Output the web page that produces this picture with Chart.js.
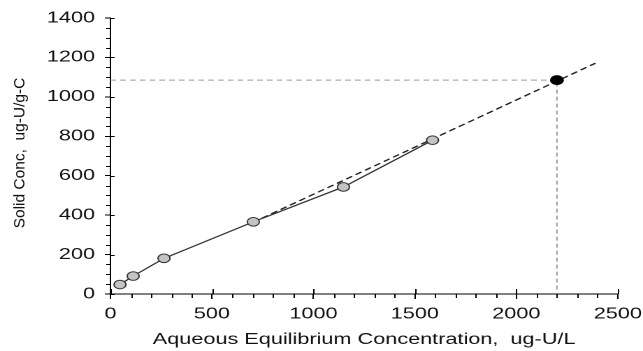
<!DOCTYPE html>
<html>
<head>
<meta charset="utf-8">
<script src="https://cdn.jsdelivr.net/npm/chart.js@4/dist/chart.umd.min.js"></script>
<style>
  html, body { margin: 0; padding: 0; background: #fff; overflow: hidden; }
  #wrap { width: 460px; height: 351px; transform-origin: 0 0; }
</style>
</head>
<body>
<div id="wrap"><canvas id="chart"></canvas></div>
<script>
// measured isotherm points
const measX = [47, 112, 264, 704, 1148, 1587];
const measY = [48, 91, 181, 366, 543, 780];
// linear extrapolation (dashed)
const fitX = [700, 2390];
const fitY = [362, 1171];
// predicted point
const predX = [2200];
const predY = [1085];

const xTicks = [0, 500, 1000, 1500, 2000, 2500];
const yTicks = [0, 200, 400, 600, 800, 1000, 1200, 1400];

// the original picture is stretched sideways, so the whole chart is drawn narrow and scaled
const S = 643 / 460;
document.getElementById('wrap').style.transform = 'scaleX(' + S + ')';

const FONT = 'Liberation Sans, Arial, sans-serif';
const pts = (xs, ys) => xs.map((x, i) => ({ x: x, y: ys[i] }));

// minor ticks + inner half of the major ticks, plus the rotated y title
const axisExtras = {
    id: 'axisExtras',
    afterDraw(chart) {
        const ctx = chart.ctx;
        const xs = chart.scales.x;
        const ys = chart.scales.y;
        const y0 = ys.getPixelForValue(0);
        const x0 = xs.getPixelForValue(0);
        ctx.save();
        ctx.strokeStyle = '#000';
        ctx.lineWidth = 1;
        ctx.beginPath();
        for (let v = 0; v <= 2500; v += 100) {
            const px = Math.round(xs.getPixelForValue(v)) + 0.5;
            if (xTicks.includes(v)) {
                ctx.moveTo(px, y0 - 5);
                ctx.lineTo(px, y0);
            } else {
                ctx.moveTo(px, y0);
                ctx.lineTo(px, y0 + 4);
            }
        }
        for (let v = 0; v <= 1400; v += 50) {
            const py = Math.round(ys.getPixelForValue(v)) + 0.5;
            if (yTicks.includes(v)) {
                ctx.moveTo(x0, py);
                ctx.lineTo(x0 + 3, py);
            } else {
                ctx.moveTo(x0 - 3, py);
                ctx.lineTo(x0, py);
            }
        }
        ctx.stroke();

        // y title, drawn un-stretched
        ctx.translate(14.3, 153);
        ctx.scale(1 / S, 1);
        ctx.rotate(-Math.PI / 2);
        ctx.fillStyle = '#111';
        ctx.font = '15.5px ' + FONT;
        ctx.textAlign = 'center';
        ctx.textBaseline = 'middle';
        ctx.fillText('Solid Conc,  ug-U/g-C', 0, 0);
        ctx.restore();
    }
};

const ctx = document.getElementById('chart').getContext('2d');
new Chart(ctx, {
    type: 'scatter',
    data: {
        datasets: [
            {
                label: 'guide',
                data: [{ x: 0, y: predY[0] }, { x: predX[0], y: predY[0] }, { x: predX[0], y: 0 }],
                showLine: true,
                borderColor: '#9a9a9a',
                borderWidth: 1,
                borderDash: [4, 3],
                pointRadius: 0,
                order: 4
            },
            {
                label: 'fit',
                data: pts(fitX, fitY),
                showLine: true,
                borderColor: '#222',
                borderWidth: 1.3,
                borderDash: [5, 3],
                pointRadius: 0,
                order: 3
            },
            {
                label: 'measured',
                data: pts(measX, measY),
                showLine: true,
                borderColor: '#333',
                borderWidth: 1.2,
                pointRadius: 4.3,
                pointBackgroundColor: '#c4c4c4',
                pointBorderColor: '#333',
                pointBorderWidth: 1,
                order: 2
            },
            {
                label: 'predicted',
                data: pts(predX, predY),
                pointRadius: 4.5,
                pointBackgroundColor: '#000',
                pointBorderColor: '#000',
                order: 1
            }
        ]
    },
    options: {
        responsive: true,
        maintainAspectRatio: false,
        animation: false,
        devicePixelRatio: 2,
        layout: {
            padding: { left: 0, right: 18, top: 18, bottom: 0 }
        },
        plugins: {
            legend: { display: false },
            tooltip: { enabled: false }
        },
        scales: {
            x: {
                type: 'linear',
                min: 0,
                max: 2500,
                afterBuildTicks: (scale) => { scale.ticks = xTicks.map(v => ({ value: v })); },
                afterFit: (scale) => {
                    scale.height = 57;
                    scale.paddingLeft = 0;
                    scale.paddingRight = 0;
                },
                grid: { drawOnChartArea: false, drawTicks: true, tickLength: 5, color: '#000' },
                border: { color: '#000', width: 1 },
                ticks: {
                    padding: 6,
                    color: '#111',
                    font: { family: FONT, size: 15.5 },
                    callback: (v) => String(v)
                },
                title: {
                    display: true,
                    text: 'Aqueous Equilibrium Concentration,  ug-U/L',
                    color: '#111',
                    font: { family: FONT, size: 15.5 },
                    padding: { top: 2, bottom: 2 }
                }
            },
            y: {
                type: 'linear',
                min: 0,
                max: 1400,
                afterBuildTicks: (scale) => { scale.ticks = yTicks.map(v => ({ value: v })); },
                afterFit: (scale) => { scale.width = 79; },
                grid: { drawOnChartArea: false, drawTicks: true, tickLength: 4, color: '#000' },
                border: { color: '#000', width: 1 },
                ticks: {
                    padding: 7,
                    color: '#111',
                    font: { family: FONT, size: 15.5 },
                    callback: (v) => String(v)
                }
            }
        }
    },
    plugins: [axisExtras]
});
</script>
</body>
</html>
